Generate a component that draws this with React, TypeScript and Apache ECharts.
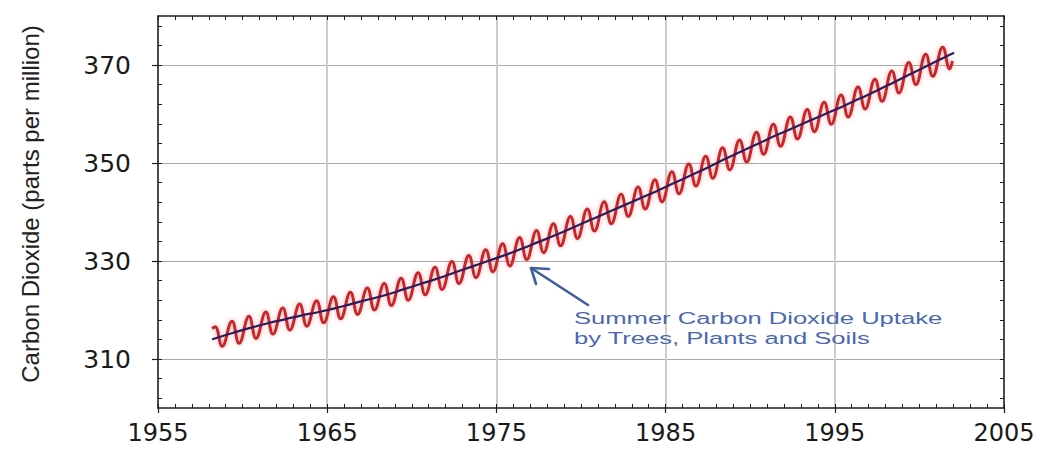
import React, { useEffect, useRef } from 'react';
import * as echarts from 'echarts';

// ---- axis ranges & tick labels ----
const xMin = 1955;
const xMax = 2005;
const xLabelStep = 10;
const yMin = 300;
const yMax = 380;
const yLabelValues = [310, 330, 350, 370];
const yMinorTickValues = [302, 306, 310, 314, 318, 322, 326, 330, 334, 338, 342, 346, 350, 354, 358, 362, 366, 370, 374, 378];

// ---- data (ppm) ----
const years = [
  1958, 1959, 1960, 1961, 1962, 1963, 1964, 1965, 1966, 1967,
  1968, 1969, 1970, 1971, 1972, 1973, 1974, 1975, 1976, 1977,
  1978, 1979, 1980, 1981, 1982, 1983, 1984, 1985, 1986, 1987,
  1988, 1989, 1990, 1991, 1992, 1993, 1994, 1995, 1996, 1997,
  1998, 1999, 2000, 2001,
];
// seasonal maximum (May) of each year
const mayPeaks = [
  316.6, 317.7, 318.7, 319.6, 320.4, 321.2, 321.9, 322.7, 323.6, 324.5,
  325.4, 326.5, 327.6, 328.7, 329.9, 331.1, 332.3, 333.5, 334.8, 336.2,
  337.6, 339.1, 340.6, 342.1, 343.6, 345.1, 346.6, 348.2, 349.8, 351.4,
  353.1, 354.7, 356.3, 357.9, 359.4, 360.9, 362.4, 363.9, 365.5, 367.1,
  368.8, 370.5, 372.2, 373.6,
];
// seasonal minimum (October) of each year
const octTroughs = [
  312.6, 313.2, 314.2, 315.1, 315.9, 316.7, 317.4, 318.2, 319.1, 320.0,
  320.9, 322.0, 323.1, 324.2, 325.4, 326.6, 327.8, 329.0, 330.3, 331.7,
  333.1, 334.6, 336.1, 337.6, 339.1, 340.6, 342.1, 343.7, 345.3, 346.9,
  348.6, 350.2, 351.8, 353.4, 354.9, 356.4, 357.9, 359.4, 361.0, 362.6,
  364.3, 366.0, 367.7, 369.2,
];
const peakMonth = 5;
const troughMonth = 10;
const seasonalStart: [number, number] = [1958.2, 316.2];
const seasonalEnd: [number, number] = [2001.95, 370.8];

// long-term trend (annual mid-year values)
const trendValues = [
  314.35, 315.4, 316.4, 317.3, 318.1, 318.9, 319.6, 320.4, 321.3, 322.2,
  323.1, 324.2, 325.3, 326.4, 327.6, 328.8, 330.0, 331.2, 332.5, 333.9,
  335.3, 336.8, 338.3, 339.8, 341.3, 342.8, 344.3, 345.9, 347.5, 349.1,
  350.8, 352.4, 354.0, 355.6, 357.1, 358.6, 360.1, 361.6, 363.2, 364.8,
  366.5, 368.2, 369.9, 371.6,
];
const trendStart: [number, number] = [1958.2, 314.0];
const trendEnd: [number, number] = [2002.05, 372.5];

const yTitle = 'Carbon Dioxide (parts per million)';
const noteText = 'Summer Carbon Dioxide Uptake\nby Trees, Plants and Soils';

function monthPos(year: number, month: number) {
  return year + (month - 0.5) / 12;
}

export default function App() {
  const ref = useRef<HTMLDivElement>(null);

  useEffect(() => {
    if (!ref.current) return;
    const chart = echarts.init(ref.current, undefined, { renderer: 'svg' });

    const seasonal: [number, number][] = [seasonalStart];
    years.forEach((y, i) => {
      seasonal.push([monthPos(y, peakMonth), mayPeaks[i]]);
      seasonal.push([monthPos(y, troughMonth), octTroughs[i]]);
    });
    seasonal.push(seasonalEnd);

    const trend: [number, number][] = [trendStart];
    years.forEach((y, i) => trend.push([y + 0.5, trendValues[i]]));
    trend.push(trendEnd);

    const axisColor = '#1e1e1e';
    const labelFont = { fontSize: 24, fontFamily: 'DejaVu Sans', color: '#1a1a1a' };

    const option: any = {
      animation: false,
      backgroundColor: '#ffffff',
      grid: { left: 158, right: 44, top: 16, bottom: 42 },
      xAxis: [
        {
          type: 'value', position: 'bottom', min: xMin, max: xMax, interval: xLabelStep,
          axisLine: { show: true, onZero: false, lineStyle: { color: axisColor, width: 1.5 } },
          axisTick: { show: true, inside: false, length: 5, lineStyle: { color: axisColor, width: 1.2 } },
          axisLabel: { show: true, margin: 13, ...labelFont, formatter: (v: number) => String(v) },
          splitLine: { show: true, lineStyle: { color: '#cdcdcd', width: 2 } },
        },
        {
          type: 'value', position: 'top', min: xMin, max: xMax, interval: 1,
          axisLine: { show: true, onZero: false, lineStyle: { color: axisColor, width: 1.5 } },
          axisTick: { show: true, inside: true, length: 4, lineStyle: { color: axisColor, width: 1 } },
          axisLabel: { show: false },
          splitLine: { show: false },
        },
        {
          type: 'value', position: 'bottom', min: xMin, max: xMax, interval: 1,
          axisLine: { show: false, onZero: false },
          axisTick: { show: true, inside: true, length: 4, lineStyle: { color: axisColor, width: 1 } },
          axisLabel: { show: false },
          splitLine: { show: false },
        },
      ],
      yAxis: [
        {
          type: 'value', position: 'left', min: yMin, max: yMax, interval: 10,
          name: yTitle, nameLocation: 'middle', nameGap: 116, nameRotate: 90,
          nameTextStyle: { fontSize: 24, fontFamily: 'Liberation Sans', color: '#222', padding: [0, 0, 0, 16] },
          axisLine: { show: true, onZero: false, lineStyle: { color: axisColor, width: 1.5 } },
          axisTick: { show: true, inside: false, length: 6, customValues: yLabelValues, lineStyle: { color: axisColor, width: 1.2 } },
          axisLabel: { show: true, margin: 27, customValues: yLabelValues, ...labelFont, fontSize: 25, formatter: (v: number) => String(v) },
          splitLine: { show: true, lineStyle: { color: '#a8a8a8', width: 1.2 } },
        },
        {
          type: 'value', position: 'right', min: yMin, max: yMax,
          axisLine: { show: true, onZero: false, lineStyle: { color: axisColor, width: 1.5 } },
          axisTick: { show: true, inside: true, length: 4, customValues: yMinorTickValues, lineStyle: { color: axisColor, width: 1 } },
          axisLabel: { show: false },
          splitLine: { show: false },
        },
        {
          type: 'value', position: 'left', min: yMin, max: yMax,
          axisLine: { show: false, onZero: false },
          axisTick: { show: true, inside: true, length: 4, customValues: yMinorTickValues, lineStyle: { color: axisColor, width: 1 } },
          axisLabel: { show: false },
          splitLine: { show: false },
        },
      ],
      series: [
        {
          name: 'Monthly CO2',
          type: 'line',
          xAxisIndex: 0, yAxisIndex: 0,
          data: seasonal,
          smooth: 0.45,
          showSymbol: false,
          symbol: 'none',
          z: 3,
          lineStyle: { color: '#c6262b', width: 3, shadowColor: 'rgba(245,110,110,0.6)', shadowBlur: 5 },
        },
        {
          name: 'Trend',
          type: 'line',
          xAxisIndex: 0, yAxisIndex: 0,
          data: trend,
          smooth: true,
          showSymbol: false,
          symbol: 'none',
          z: 4,
          lineStyle: { color: '#2b1d5c', width: 2.2 },
        },
      ],
      graphic: [
        {
          type: 'line', z: 10,
          shape: { x1: 588, y1: 305, x2: 531, y2: 268 },
          style: { stroke: '#3d5f9e', lineWidth: 2.6, lineCap: 'round' },
        },
        {
          type: 'polyline', z: 10,
          shape: { points: [[549, 269], [531, 268], [536, 284]] },
          style: { stroke: '#3d5f9e', lineWidth: 2.6, fill: 'none', lineCap: 'round', lineJoin: 'round' },
        },
        {
          type: 'text', z: 10,
          x: 574, y: 309, scaleX: 1.6, scaleY: 1,
          style: {
            text: noteText,
            font: '16px "Liberation Sans", Arial, sans-serif',
            fill: '#4a68b0',
            lineHeight: 20,
            textAlign: 'left',
            textVerticalAlign: 'top',
          },
        },
      ],
    };

    chart.setOption(option);
    return () => chart.dispose();
  }, []);

  return (
    <div
      ref={ref}
      style={{ position: 'fixed', left: 0, top: 0, width: 1048, height: 450, background: '#fff' }}
    />
  );
}
